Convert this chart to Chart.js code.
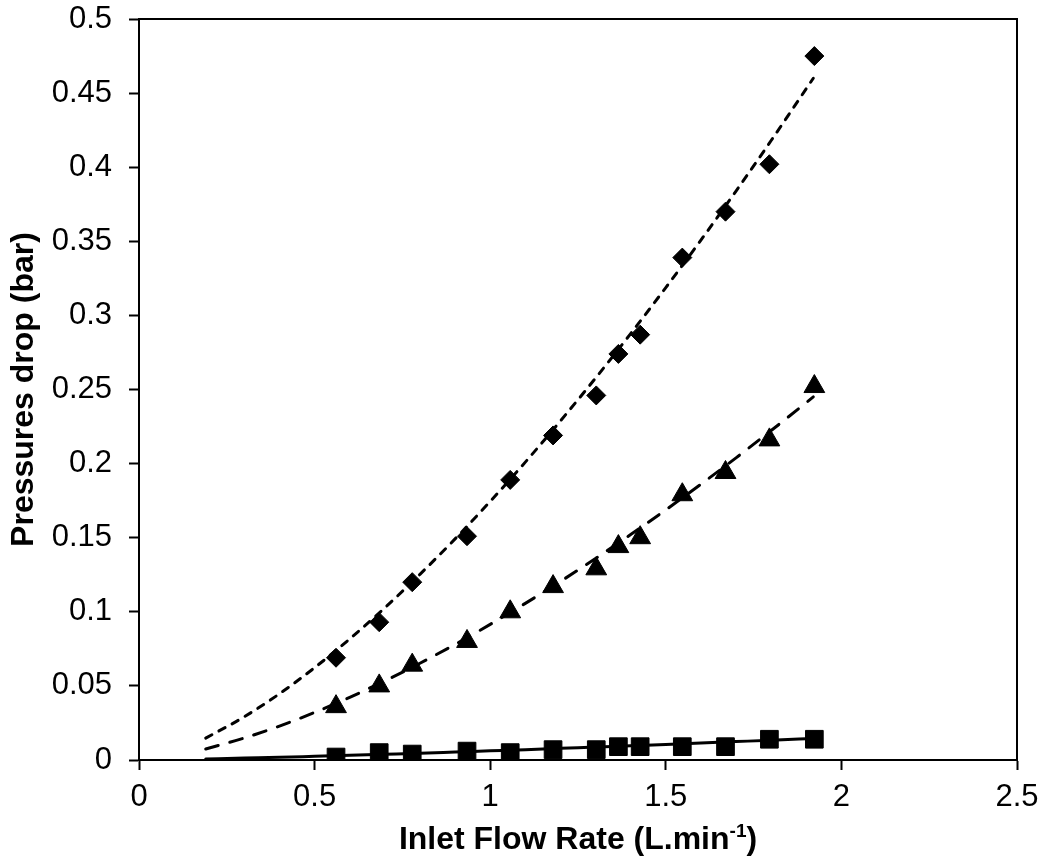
<!DOCTYPE html>
<html>
<head>
<meta charset="utf-8">
<title>Pressures drop vs inlet flow rate</title>
<script src="https://cdn.jsdelivr.net/npm/chart.js@4/dist/chart.umd.min.js"></script>
<style>
  html, body { margin: 0; padding: 0; background: #fff; }
  #wrap { width: 1041px; height: 860px; }
</style>
</head>
<body>
<div id="wrap"><canvas id="chart" width="1041" height="860"></canvas></div>
<script>
// Measured inlet flow rates (L/min)
const flowRates = [0.561, 0.684, 0.778, 0.934, 1.057, 1.179, 1.302, 1.365, 1.427, 1.547, 1.670, 1.795, 1.923];

// Measured pressure drops (bar) for the three configurations
const dropDiamond  = [0.069, 0.093, 0.120, 0.151, 0.189, 0.219, 0.246, 0.274, 0.287, 0.339, 0.370, 0.402, 0.475];
const dropTriangle = [0.036, 0.050, 0.064, 0.080, 0.100, 0.117, 0.129, 0.144, 0.150, 0.179, 0.194, 0.216, 0.252];
const dropSquare   = [0.002, 0.005, 0.004, 0.006, 0.005, 0.007, 0.007, 0.009, 0.009, 0.009, 0.009, 0.014, 0.014];

// Trend curves, sampled along the flow-rate range
const trendFlow     = [0.19, 0.3, 0.4, 0.5, 0.6, 0.7, 0.8, 0.9, 1.0, 1.1, 1.2, 1.3, 1.4, 1.5, 1.6, 1.7, 1.8, 1.92];
const trendDiamond  = [0.0148, 0.0292, 0.0447, 0.0623, 0.0817, 0.1027, 0.1253, 0.1492, 0.1745, 0.2010, 0.2288, 0.2577, 0.2877, 0.3188, 0.3508, 0.3839, 0.4180, 0.4600];
const trendTriangle = [0.0074, 0.0149, 0.0229, 0.0321, 0.0423, 0.0534, 0.0653, 0.0780, 0.0915, 0.1057, 0.1205, 0.1360, 0.1521, 0.1688, 0.1861, 0.2039, 0.2223, 0.2450];
const trendSquare   = [0.0007, 0.0013, 0.0018, 0.0025, 0.0032, 0.0039, 0.0046, 0.0054, 0.0062, 0.0070, 0.0079, 0.0087, 0.0096, 0.0104, 0.0114, 0.0124, 0.0134, 0.0145];

// Axis tick values
const xTicks = [0, 0.5, 1, 1.5, 2, 2.5];
const yTicks = [0, 0.05, 0.1, 0.15, 0.2, 0.25, 0.3, 0.35, 0.4, 0.45, 0.5];

const pairs = (xs, ys) => xs.map((x, i) => ({ x: x, y: ys[i] }));
const fmt = v => String(+(+v).toFixed(2));

const FONT = '"Liberation Sans", Arial, sans-serif';

function markerSet(label, values, style, radius) {
  return {
    label: label,
    data: pairs(flowRates, values),
    showLine: false,
    pointStyle: style,
    pointRadius: radius,
    pointHoverRadius: radius,
    pointBackgroundColor: '#000',
    pointBorderColor: '#000',
    pointBorderWidth: 1,
    order: 0
  };
}

function trendSet(label, values, dash) {
  return {
    label: label,
    data: pairs(trendFlow, values),
    showLine: true,
    pointRadius: 0,
    borderColor: '#000',
    borderWidth: 3,
    borderDash: dash,
    borderCapStyle: 'round',
    cubicInterpolationMode: 'monotone',
    fill: false,
    order: 1
  };
}

// Keep the plot box fixed: drop the extra room Chart.js reserves for edge labels
function noEdgePadding(scale) {
  scale.paddingTop = 0;
  scale.paddingBottom = 0;
  scale.paddingLeft = 0;
  scale.paddingRight = 0;
}

// Frame on the top and right of the plot area, plus the x-axis title with superscript
const framePlugin = {
  id: 'frameAndTitle',
  afterDraw(chart) {
    const { ctx, chartArea: a } = chart;
    ctx.save();
    ctx.strokeStyle = '#000';
    ctx.lineWidth = 2;
    ctx.beginPath();
    ctx.moveTo(a.left, a.top);
    ctx.lineTo(a.right, a.top);
    ctx.lineTo(a.right, a.bottom);
    ctx.stroke();

    const main = 'Inlet Flow Rate (L.min';
    const sup = '-1';
    const tail = ')';
    const big = 'bold 32px ' + FONT;
    const small = 'bold 19px ' + FONT;
    ctx.fillStyle = '#000';
    ctx.textBaseline = 'alphabetic';
    ctx.textAlign = 'left';
    ctx.font = big;
    const wMain = ctx.measureText(main).width;
    const wTail = ctx.measureText(tail).width;
    ctx.font = small;
    const wSup = ctx.measureText(sup).width;
    const total = wMain + wSup + wTail;
    const cx = (a.left + a.right) / 2;
    const base = 849;
    let x = cx - total / 2;
    ctx.font = big;
    ctx.fillText(main, x, base);
    x += wMain;
    ctx.font = small;
    ctx.fillText(sup, x, base - 12);
    x += wSup;
    ctx.font = big;
    ctx.fillText(tail, x, base);
    ctx.restore();
  }
};

new Chart(document.getElementById('chart'), {
  type: 'scatter',
  data: {
    datasets: [
      markerSet('Series ◆', dropDiamond, 'rectRot', 9.5),
      markerSet('Series ▲', dropTriangle, 'triangle', 12),
      markerSet('Series ■', dropSquare, 'rect', 12.5),
      trendSet('Trend ◆', trendDiamond, [7, 8]),
      trendSet('Trend ▲', trendTriangle, [13, 12]),
      trendSet('Trend ■', trendSquare, [])
    ]
  },
  options: {
    responsive: false,
    maintainAspectRatio: false,
    devicePixelRatio: 1,
    animation: false,
    layout: { padding: { left: 0, right: 24, top: 19, bottom: 0 } },
    plugins: {
      legend: { display: false },
      tooltip: { enabled: false }
    },
    scales: {
      x: {
        type: 'linear',
        min: 0,
        max: 2.5,
        afterBuildTicks(scale) { scale.ticks = xTicks.map(v => ({ value: v })); },
        afterFit(scale) { scale.height = 100; noEdgePadding(scale); },
        ticks: {
          color: '#000',
          font: { family: FONT, size: 31 },
          padding: 9,
          maxRotation: 0,
          callback: fmt
        },
        grid: {
          display: true,
          drawOnChartArea: false,
          drawTicks: true,
          tickLength: 10,
          tickColor: '#000',
          tickWidth: 2
        },
        border: { display: true, color: '#000', width: 2 },
        title: { display: false }
      },
      y: {
        type: 'linear',
        min: 0,
        max: 0.5,
        afterBuildTicks(scale) { scale.ticks = yTicks.map(v => ({ value: v })); },
        afterFit(scale) { scale.width = 139; noEdgePadding(scale); },
        ticks: {
          color: '#000',
          font: { family: FONT, size: 31 },
          padding: 17,
          callback: fmt
        },
        grid: {
          display: true,
          drawOnChartArea: false,
          drawTicks: true,
          tickLength: 10,
          tickColor: '#000',
          tickWidth: 2
        },
        border: { display: true, color: '#000', width: 2 },
        title: {
          display: true,
          text: 'Pressures drop (bar)',
          color: '#000',
          font: { family: FONT, size: 32, weight: 'bold' },
          padding: { top: 5, bottom: 0 }
        }
      }
    }
  },
  plugins: [framePlugin]
});
</script>
</body>
</html>
